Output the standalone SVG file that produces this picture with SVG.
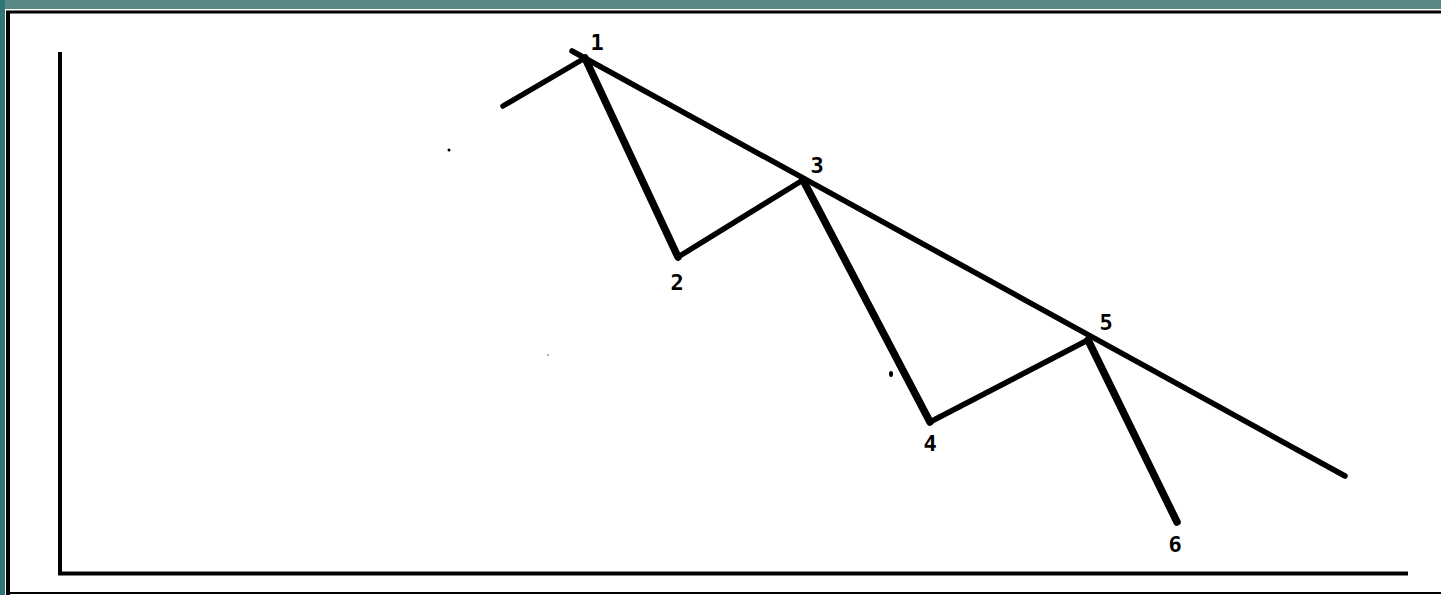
<svg xmlns="http://www.w3.org/2000/svg" width="1441" height="595" viewBox="0 0 1441 595">
<style>
.frame{stroke:#000;fill:none;stroke-linecap:butt}
.up{stroke:#000;stroke-width:5.500;fill:none;stroke-linecap:round;stroke-linejoin:round}
.down{stroke:#000;stroke-width:7.500;fill:none;stroke-linecap:round;stroke-linejoin:round}
.lbl{font-family:"DejaVu Sans Mono","Liberation Mono",monospace;font-weight:bold;font-size:22px;fill:#000;text-anchor:middle}
</style>
<rect x="0" y="0" width="1441" height="595" fill="#fff"/>
<g id="background">
<rect x="0" y="0" width="1441" height="9" fill="#5b8986"/>
<rect x="0" y="0" width="5" height="595" fill="#2f7774"/>
<line class="frame" x1="6" y1="12" x2="1441" y2="12" stroke-width="3"/>
<line class="frame" x1="8" y1="11" x2="8" y2="595" stroke-width="4"/>
<line class="frame" x1="8" y1="593" x2="1441" y2="593" stroke-width="2"/>
</g>
<g id="axes">
<line class="frame" x1="60" y1="52" x2="60" y2="575" stroke-width="4"/>
<line class="frame" x1="58" y1="573.500" x2="1408" y2="573.500" stroke-width="4"/>
</g>
<g id="connectors">
<line class="up" x1="572" y1="51" x2="1345" y2="476"/>
<polyline class="up" points="503,106 585,58"/>
<polyline class="down" points="585,58 678,257"/>
<polyline class="up" points="678,257 803,180"/>
<polyline class="down" points="803,180 930,422"/>
<polyline class="up" points="930,422 1088,340"/>
<polyline class="down" points="1088,340 1177,522"/>
</g>
<g id="p1"><text class="lbl" x="597" y="50">1</text></g>
<g id="p2"><text class="lbl" x="677" y="290">2</text></g>
<g id="p3"><text class="lbl" x="817" y="173">3</text></g>
<g id="p4"><text class="lbl" x="930" y="451">4</text></g>
<g id="p5"><text class="lbl" x="1106" y="330">5</text></g>
<g id="p6"><text class="lbl" x="1175" y="552">6</text></g>
<g id="specks">
<circle cx="449" cy="150" r="1.5" fill="#000"/>
<ellipse cx="891" cy="374" rx="2" ry="3" fill="#000"/>
<circle cx="548" cy="355" r="0.8" fill="#555"/>
</g>
</svg>
